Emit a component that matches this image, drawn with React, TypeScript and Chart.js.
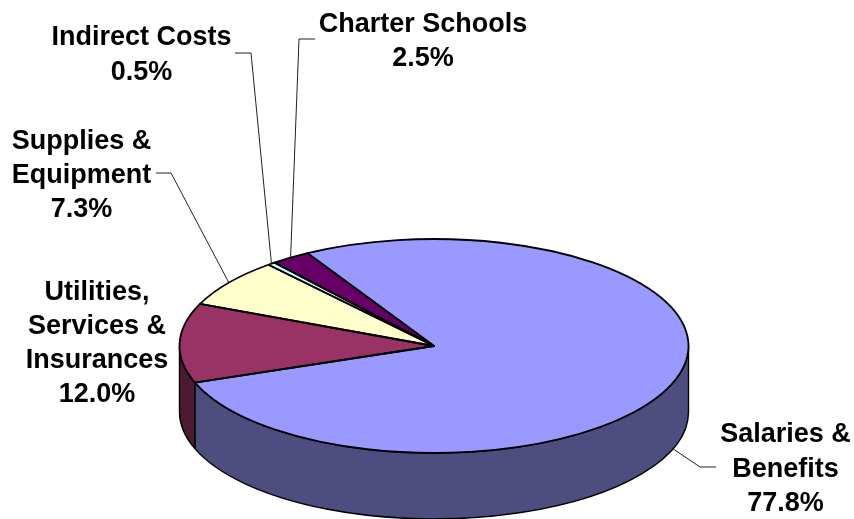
import React, { useEffect, useRef } from "react";
import { Chart, ArcElement, DoughnutController } from "chart.js";

Chart.register(ArcElement, DoughnutController);

// Budget shares, clockwise from the top of the pie.
const categories = ["Salaries & Benefits", "Utilities, Services & Insurances", "Supplies & Equipment", "Indirect Costs", "Charter Schools"];
const shares = [77.8, 12.0, 7.3, 0.5, 2.5];
const topColors = ["#9999FF", "#993366", "#FFFFCC", "#CCFFFF", "#660066"];
const wallColors = ["#4D4D80", "#4D1A33", "#808066", "#668080", "#330033"];
const labelLines = [["Salaries &", "Benefits"], ["Utilities,", "Services &", "Insurances"], ["Supplies &", "Equipment"], ["Indirect Costs"], ["Charter Schools"]];

// Tilted-disc geometry of the pie.
const DISC = { cx: 434, cy: 346, rx: 254.5, ry: 107, depth: 66, rotation: -29.8 };

// Where each label block sits and how its leader line bends.
const LABEL_LAYOUT = [
  { x: 785.5, baseline: 442, step: 34.5, leader: [[716, 467], [700, 467]], onWall: true },
  { x: 97, baseline: 300, step: 34, leader: [] },
  { x: 81.5, baseline: 149, step: 34, leader: [[156, 173], [171, 173]] },
  { x: 141.5, baseline: 45, step: 35, leader: [[235, 53], [251, 53]] },
  { x: 423, baseline: 32, step: 34, leader: [[315, 39], [299, 39]] },
];

const pointOnRim = (a: number, dy = 0) => [DISC.cx + DISC.rx * Math.cos(a), DISC.cy + DISC.ry * Math.sin(a) + dy];

// Part of an arc's sweep that faces the viewer (canvas angles 0..PI), if any.
function frontSweep(start: number, end: number): [number, number] | null {
  const turn = Math.PI * 2;
  for (let k = -2; k <= 2; k++) {
    const s = Math.max(start + k * turn, 0);
    const e = Math.min(end + k * turn, Math.PI);
    if (e > s) return [s, e];
  }
  return null;
}

const tiltedPie = {
  id: "tiltedPie",
  beforeDatasetsDraw(chart: any) {
    const { ctx } = chart;
    const arcs = chart.getDatasetMeta(0).data;
    ctx.save();
    ctx.lineJoin = "round";
    // Side wall under the front of the rim.
    arcs.forEach((arc: any, i: number) => {
      const sweep = frontSweep(arc.startAngle, arc.endAngle);
      if (!sweep) return;
      ctx.beginPath();
      ctx.ellipse(DISC.cx, DISC.cy, DISC.rx, DISC.ry, 0, sweep[0], sweep[1]);
      ctx.ellipse(DISC.cx, DISC.cy + DISC.depth, DISC.rx, DISC.ry, 0, sweep[1], sweep[0], true);
      ctx.closePath();
      ctx.fillStyle = wallColors[i];
      ctx.fill();
      ctx.lineWidth = 1.4;
      ctx.strokeStyle = "#000";
      ctx.stroke();
    });
    ctx.restore();
    // The library's own arcs are squashed into the disc's ellipse.
    ctx.save();
    const { x, y } = arcs[0];
    ctx.translate(DISC.cx, DISC.cy);
    ctx.scale(1, DISC.ry / DISC.rx);
    ctx.translate(-x, -y);
  },
  afterDatasetsDraw(chart: any) {
    const { ctx } = chart;
    const arcs = chart.getDatasetMeta(0).data;
    ctx.restore();

    // Outline of each slice on the top face.
    ctx.save();
    ctx.strokeStyle = "#000";
    ctx.lineWidth = 1.8;
    ctx.lineJoin = "round";
    arcs.forEach((arc: any) => {
      ctx.beginPath();
      ctx.moveTo(DISC.cx, DISC.cy);
      ctx.ellipse(DISC.cx, DISC.cy, DISC.rx, DISC.ry, 0, arc.startAngle, arc.endAngle);
      ctx.closePath();
      ctx.stroke();
    });

    // Leader lines and value labels.
    ctx.lineWidth = 1;
    ctx.strokeStyle = "#222";
    ctx.fillStyle = "#000";
    ctx.font = 'bold 27px "Liberation Sans", Arial, sans-serif';
    ctx.textAlign = "center";
    ctx.textBaseline = "alphabetic";
    arcs.forEach((arc: any, i: number) => {
      const layout = LABEL_LAYOUT[i];
      if (layout.leader.length) {
        const [ex, ey] = pointOnRim((arc.startAngle + arc.endAngle) / 2, layout.onWall ? DISC.depth : 0);
        ctx.beginPath();
        layout.leader.forEach(([px, py]: number[], j: number) => (j ? ctx.lineTo(px, py) : ctx.moveTo(px, py)));
        ctx.lineTo(ex, ey);
        ctx.stroke();
      }
      [...labelLines[i], `${shares[i].toFixed(1)}%`].forEach((line, j) => {
        ctx.fillText(line, layout.x, layout.baseline + j * layout.step);
      });
    });
    ctx.restore();
  },
};

export default function App() {
  const canvasRef = useRef<HTMLCanvasElement>(null);

  useEffect(() => {
    const chart = new Chart(canvasRef.current!, {
      type: "doughnut",
      data: {
        labels: categories,
        datasets: [{ data: shares, backgroundColor: topColors, borderWidth: 0, radius: DISC.rx }],
      },
      options: {
        animation: false,
        responsive: false,
        cutout: 0,
        rotation: DISC.rotation,
        layout: { padding: 0 },
        plugins: { legend: { display: false }, tooltip: { enabled: false } },
      } as any,
      plugins: [tiltedPie],
    });
    return () => chart.destroy();
  }, []);

  return (
    <div style={{ position: "absolute", left: 0, top: 0, width: 854, height: 519, background: "#fff" }}>
      <canvas ref={canvasRef} width={854} height={519} style={{ display: "block" }} />
    </div>
  );
}
